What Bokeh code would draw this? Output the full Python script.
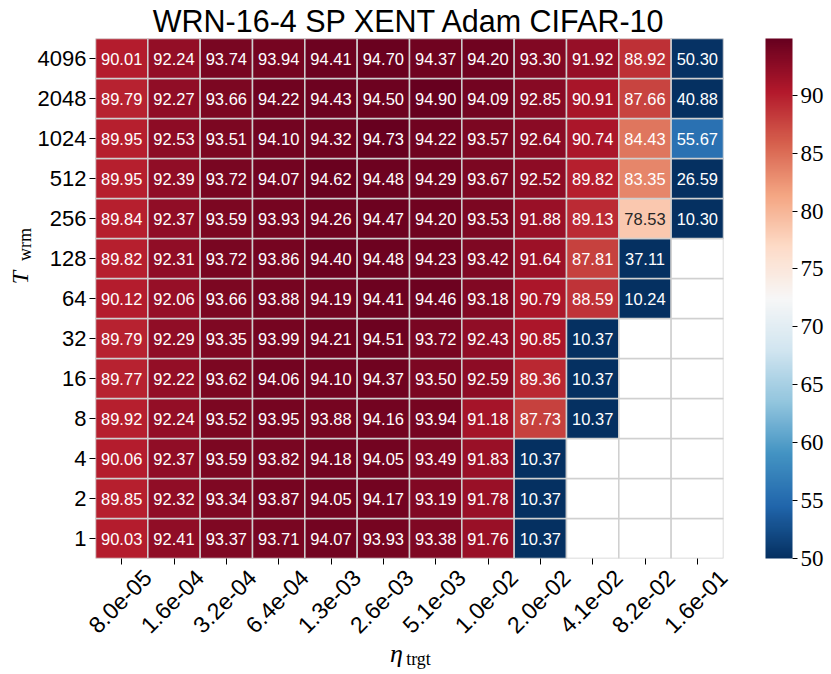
import math
import numpy as np
from bokeh.plotting import figure
from bokeh.models import (ColumnDataSource, LinearColorMapper, ColorBar, FixedTicker,
                          Range1d, LinearAxis)
from bokeh.transform import transform
from bokeh.core.properties import value
from bokeh.embed import file_html
from bokeh.resources import INLINE

nan = float("nan")

# learning rates (x categories) and warmup steps (y categories)
lr_labels = ["8.0e-05", "1.6e-04", "3.2e-04", "6.4e-04", "1.3e-03", "2.6e-03",
             "5.1e-03", "1.0e-02", "2.0e-02", "4.1e-02", "8.2e-02", "1.6e-01"]
warmup_labels = ["1", "2", "4", "8", "16", "32", "64", "128", "256", "512",
                 "1024", "2048", "4096"]

# accuracy per warmup row (columns follow lr_labels)
acc_4096 = [90.01, 92.24, 93.74, 93.94, 94.41, 94.70, 94.37, 94.20, 93.30, 91.92, 88.92, 50.30]
acc_2048 = [89.79, 92.27, 93.66, 94.22, 94.43, 94.50, 94.90, 94.09, 92.85, 90.91, 87.66, 40.88]
acc_1024 = [89.95, 92.53, 93.51, 94.10, 94.32, 94.73, 94.22, 93.57, 92.64, 90.74, 84.43, 55.67]
acc_512 = [89.95, 92.39, 93.72, 94.07, 94.62, 94.48, 94.29, 93.67, 92.52, 89.82, 83.35, 26.59]
acc_256 = [89.84, 92.37, 93.59, 93.93, 94.26, 94.47, 94.20, 93.53, 91.88, 89.13, 78.53, 10.30]
acc_128 = [89.82, 92.31, 93.72, 93.86, 94.40, 94.48, 94.23, 93.42, 91.64, 87.81, 37.11, nan]
acc_64 = [90.12, 92.06, 93.66, 93.88, 94.19, 94.41, 94.46, 93.18, 90.79, 88.59, 10.24, nan]
acc_32 = [89.79, 92.29, 93.35, 93.99, 94.21, 94.51, 93.72, 92.43, 90.85, 10.37, nan, nan]
acc_16 = [89.77, 92.22, 93.62, 94.06, 94.10, 94.37, 93.50, 92.59, 89.36, 10.37, nan, nan]
acc_8 = [89.92, 92.24, 93.52, 93.95, 93.88, 94.16, 93.94, 91.18, 87.73, 10.37, nan, nan]
acc_4 = [90.06, 92.37, 93.59, 93.82, 94.18, 94.05, 93.49, 91.83, 10.37, nan, nan, nan]
acc_2 = [89.85, 92.32, 93.34, 93.87, 94.05, 94.17, 93.19, 91.78, 10.37, nan, nan, nan]
acc_1 = [90.03, 92.41, 93.37, 93.71, 94.07, 93.93, 93.38, 91.76, 10.37, nan, nan, nan]

rows = {"1": acc_1, "2": acc_2, "4": acc_4, "8": acc_8, "16": acc_16, "32": acc_32,
        "64": acc_64, "128": acc_128, "256": acc_256, "512": acc_512,
        "1024": acc_1024, "2048": acc_2048, "4096": acc_4096}

color_ticks = [50, 55, 60, 65, 70, 75, 80, 85, 90]
vmin = 50.0
vmax = 94.90

# RdBu_r colormap (ColorBrewer anchors), interpolated to 256
anchors = ["#053061", "#2166ac", "#4393c3", "#92c5de", "#d1e5f0", "#f7f7f7",
           "#fddbc7", "#f4a582", "#d6604d", "#b2182b", "#67001f"]
arr = np.array([[int(h[i:i + 2], 16) / 255.0 for i in (1, 3, 5)] for h in anchors])
pos = np.linspace(0, 1, len(anchors))
xs = np.linspace(0, 1, 256)
rgb = np.stack([np.interp(xs, pos, arr[:, k]) for k in range(3)], axis=1)
palette = ["#%02x%02x%02x" % tuple(int(round(c * 255)) for c in col) for col in rgb]


def lum(col):
    lin = np.where(col <= 0.03928, col / 12.92, ((col + 0.055) / 1.055) ** 2.4)
    return 0.2126 * lin[0] + 0.7152 * lin[1] + 0.0722 * lin[2]


nx, ny = len(lr_labels), len(warmup_labels)
xv, yv, vals, labels, tcols = [], [], [], [], []
for j, wl in enumerate(warmup_labels):
    for i, v in enumerate(rows[wl]):
        xv.append(i)
        yv.append(j)
        vals.append(v)
        if math.isnan(v):
            labels.append("")
            tcols.append("white")
        else:
            labels.append("%.2f" % v)
            idx = int((v - vmin) / (vmax - vmin) * 256)
            idx = min(max(idx, 0), 255)
            tcols.append("#262626" if lum(rgb[idx]) > 0.408 else "white")

source = ColumnDataSource(dict(x=xv, y=yv, val=np.array(vals), label=labels, tcol=tcols))

mapper = LinearColorMapper(palette=palette, low=vmin, high=vmax,
                           low_color=palette[0], high_color=palette[-1], nan_color="white")

p = figure(x_range=Range1d(-0.5, nx - 0.5), y_range=Range1d(-0.5, ny - 0.5),
           frame_width=628, frame_height=520,
           min_border_left=95, min_border_right=107, min_border_top=37, min_border_bottom=100,
           output_backend="svg", toolbar_location=None, tools="",
           title="WRN-16-4 SP XENT Adam CIFAR-10")

p.title.align = "center"
p.title.text_font = "Liberation Sans"
p.title.text_font_size = "30.5px"
p.title.text_font_style = "normal"
p.title.text_color = "black"
p.title.standoff = 2

p.rect(x="x", y="y", width=1, height=1, source=source,
       fill_color=transform("val", mapper), line_color="#d0d0d0", line_width=1.5)
p.text(x="x", y="y", text="label", text_color="tcol", source=source,
       text_align="center", text_baseline="middle",
       text_font=value("Liberation Sans"), text_font_size=value("16.5px"))

p.grid.visible = False
p.outline_line_color = None
p.axis.axis_line_color = None
p.axis.major_tick_line_color = "black"
p.axis.minor_tick_line_color = None
p.axis.major_tick_out = 6
p.axis.major_tick_in = 0
p.axis.major_label_text_font = "Liberation Sans"
p.axis.major_label_text_color = "black"

p.yaxis.ticker = FixedTicker(ticks=list(range(ny)))
p.yaxis.major_label_overrides = {j: s for j, s in enumerate(warmup_labels)}
p.yaxis.major_label_text_font_size = "22px"
p.yaxis.major_label_standoff = 3

# primary x axis: only the ticks at the cell centres
p.xaxis.ticker = FixedTicker(ticks=list(range(nx)))
p.xaxis.major_label_overrides = {i: "" for i in range(nx)}
p.xaxis.major_label_text_font_size = "1px"
p.xaxis.major_label_standoff = 0

# rotated tick labels centred under each tick (matplotlib style), via a shifted range
shift = 0.49
p.extra_x_ranges = {"lab": Range1d(start=-0.5 - shift, end=nx - 0.5 - shift)}
lab_axis = LinearAxis(x_range_name="lab",
                      ticker=FixedTicker(ticks=list(range(nx))),
                      major_label_overrides={i: s for i, s in enumerate(lr_labels)},
                      major_label_orientation=math.pi / 4,
                      major_label_text_font="Liberation Sans",
                      major_label_text_font_size="23px", major_label_text_color="black",
                      major_label_standoff=3, major_tick_line_color=None,
                      minor_tick_line_color=None, axis_line_color=None)
p.add_layout(lab_axis, "below")

NB = "\u00a0"


def title_axis(text, size, italic, standoff):
    """An axis without ticks whose only content is a (part of the) axis title."""
    return LinearAxis(ticker=FixedTicker(ticks=[]),
                      axis_label=text, axis_label_standoff=standoff,
                      axis_label_text_font="Liberation Serif",
                      axis_label_text_font_style="italic" if italic else "normal",
                      axis_label_text_font_size=size, axis_label_text_color="black",
                      major_label_text_font_size="0px", major_tick_line_color=None,
                      minor_tick_line_color=None, axis_line_color=None)


# x title  eta_trgt  (eta, then subscript 'trgt' pulled up next to it)
p.add_layout(title_axis("\u03b7" + NB * 4, "26px", True, -5), "below")
p.add_layout(title_axis(NB * 4 + "trgt", "18px", False, -22), "below")
# y title  T_wrm  (subscript nearer the tick labels, T further out)
p.add_layout(title_axis(NB * 24 + "wrm", "18px", False, 0), "left")
p.add_layout(title_axis(NB * 7 + "T", "24px", True, -21), "left")

cb = ColorBar(color_mapper=mapper, ticker=FixedTicker(ticks=color_ticks),
              width=27, height=520, location=(670, 0), margin=0, padding=0,
              major_tick_out=5, major_tick_in=0, major_tick_line_color="black",
              bar_line_color=None, border_line_color=None, background_fill_color=None,
              label_standoff=3, major_label_text_font="Liberation Serif",
              major_label_text_font_size="23px", major_label_text_color="black")
p.add_layout(cb, "center")

open("out.html", "w").write(file_html(p, INLINE))
